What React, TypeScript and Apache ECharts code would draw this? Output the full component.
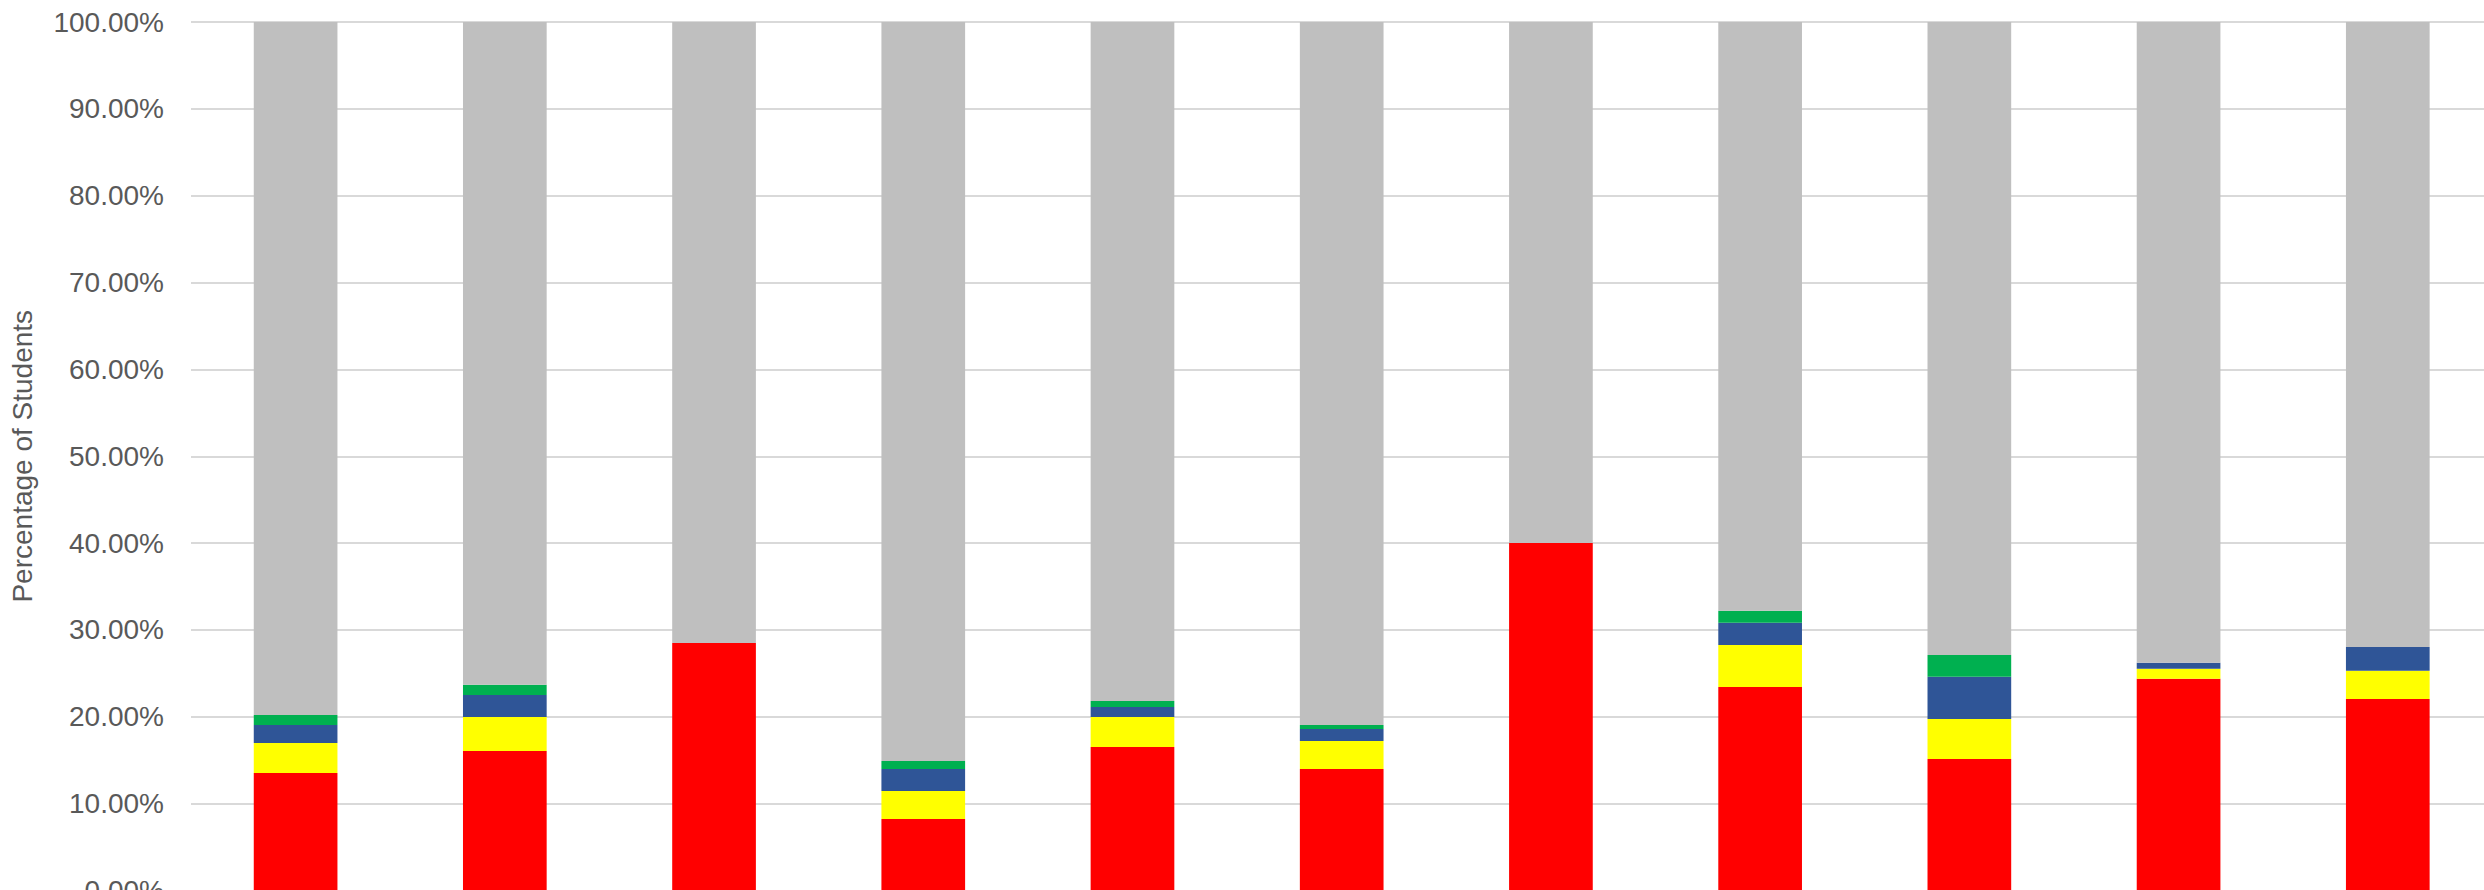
import React, { useEffect, useRef } from "react";
import * as echarts from "echarts";

const categories = ["1", "2", "3", "4", "5", "6", "7", "8", "9", "10", "11"];
const redValues = [13.54, 16.07, 28.51, 8.24, 16.53, 14.0, 40.0, 23.44, 15.15, 24.37, 22.06];
const yellowValues = [3.45, 3.92, 0, 3.22, 3.46, 3.22, 0, 4.84, 4.61, 1.15, 3.23];
const blueValues = [2.08, 2.53, 0, 2.54, 1.15, 1.38, 0, 2.54, 4.84, 0.69, 2.76];
const greenValues = [1.15, 1.16, 0, 0.92, 0.69, 0.47, 0, 1.38, 2.53, 0, 0];
const greyValues = [79.78, 76.32, 71.49, 85.08, 78.17, 80.93, 60.0, 67.8, 72.87, 73.79, 71.95];
const yTicks = { min: 0, max: 100, interval: 10 };

export default function App() {
  const ref = useRef<HTMLDivElement>(null);
  useEffect(() => {
    if (!ref.current) return;
    const chart = echarts.init(ref.current, null, { renderer: "svg" });
    const font = "'Liberation Sans', Arial, sans-serif";
    const mk = (name: string, data: number[], color: string) => ({
      name,
      type: "bar",
      stack: "total",
      data,
      barWidth: "40%",
      itemStyle: { color },
      emphasis: { disabled: true },
    });
    chart.setOption({
      animation: false,
      backgroundColor: "#ffffff",
      grid: { left: 189, top: 22, width: 2303.4, height: 868.5, containLabel: false },
      xAxis: {
        type: "category",
        data: categories,
        axisLabel: { show: false },
        axisTick: { show: false },
        axisLine: { show: true, lineStyle: { color: "#d9d9d9", width: 2 } },
      },
      yAxis: {
        type: "value",
        min: yTicks.min,
        max: yTicks.max,
        interval: yTicks.interval,
        name: "Percentage of Students",
        nameLocation: "middle",
        nameGap: 155,
        nameTextStyle: { fontFamily: font, fontSize: 28, color: "#595959" },
        axisLine: { show: false },
        axisTick: { show: false },
        axisLabel: {
          margin: 27,
          fontFamily: font,
          fontSize: 28,
          color: "#595959",
          formatter: (v: number) => v.toFixed(2) + "%",
        },
        splitLine: { lineStyle: { color: "#d9d9d9", width: 2 } },
      },
      series: [
        mk("Red", redValues, "#ff0000"),
        mk("Yellow", yellowValues, "#ffff00"),
        mk("Blue", blueValues, "#2f5597"),
        mk("Green", greenValues, "#00b050"),
        mk("Grey", greyValues, "#bfbfbf"),
      ],
    });
    return () => chart.dispose();
  }, []);
  return (
    <div style={{ position: "fixed", left: 0, top: 0, width: 2484, height: 890, overflow: "hidden", background: "#fff" }}>
      <div ref={ref} style={{ width: 2510, height: 940 }} />
    </div>
  );
}
